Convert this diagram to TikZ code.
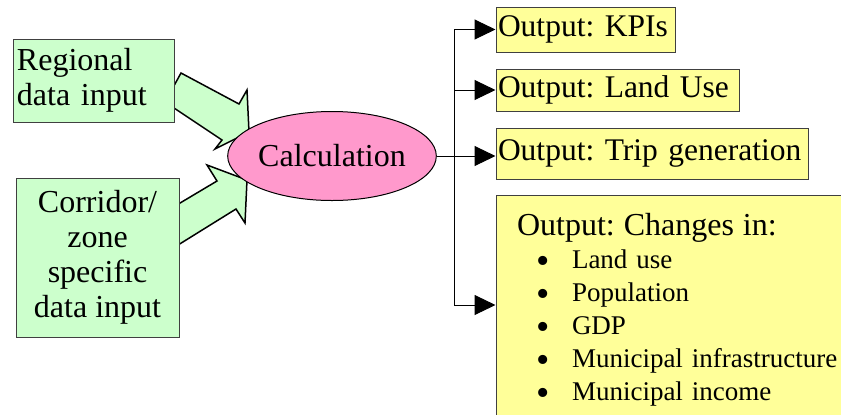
\documentclass[tikz,border=0pt]{standalone}
\usepackage{fontspec}
\setmainfont{Liberation Serif}
\usetikzlibrary{positioning,arrows.meta,shapes.geometric}
\definecolor{InputGreen}{RGB}{204,255,204}
\definecolor{OutputYellow}{RGB}{255,255,153}
\definecolor{CalcPink}{RGB}{255,153,204}
\definecolor{BoxLine}{RGB}{64,64,64}
\frenchspacing
\newcommand{\listdot}{\makebox[18pt][l]{\raisebox{-2.6pt}[0pt][0pt]{\fontsize{19}{16.5}\selectfont\textbullet}}}
\tikzset{
  flow/.style={-{Triangle[length=10.5pt,width=10pt]},line width=0.5pt,draw=black},
  busline/.style={line width=0.5pt,draw=black},
  blockarrow/.style={draw=black,fill=InputGreen,line width=0.75pt,line join=miter},
  inbox/.style={draw=BoxLine,fill=InputGreen,line width=0.5pt,inner sep=2pt,
    font=\fontsize{16}{17.5}\selectfont},
  outbox/.style={draw=BoxLine,fill=OutputYellow,line width=0.5pt,inner xsep=1pt,
    inner ysep=0pt,align=left,font=\fontsize{15.75}{17.5}\selectfont},
  calcnode/.style={ellipse,draw=black,fill=CalcPink,line width=0.5pt,inner sep=0pt,
    minimum width=100pt,minimum height=44.5pt,font=\fontsize{16}{17.5}\selectfont}
}

\begin{document}
\begin{tikzpicture}[x=0.5pt,y=-0.5pt]
  \clip (0,0) rectangle (841,414);
  % block arrows first, the input boxes hide their tails
  \draw[blockarrow] (181,73) -- (239,104) -- (247,90) -- (249,132) -- (215,149)
    -- (222,140) -- (165,102) -- cycle;
  \draw[blockarrow] (170,209) -- (217,181) -- (207,165) -- (247,180) -- (245,223)
    -- (236,209) -- (170,250) -- cycle;

  \node[inbox,minimum width=80.5pt,minimum height=41.5pt,text width=76.5pt,align=left]
    (regional) at (93.5,80.5) {Regional\\data input};
  \node[inbox,minimum width=81.5pt,minimum height=79.5pt,align=center]
    (corridor) at (97.5,257.5) {Corridor/\\zone\\specific\\data input};
  \node[calcnode] (calc) at (332,156) {Calculation};

  \node[outbox,text width=87.5pt,minimum height=22.5pt] (kpis) at (585.5,29.5) {Output: KPIs};
  \node[outbox,text width=119.5pt,minimum height=21pt,
    below=8pt of kpis.south west,anchor=north west] (landuse) {Output: Land Use};
  \node[outbox,text width=154pt,minimum height=25.5pt,
    below=8pt of landuse.south west,anchor=north west] (trip) {Output: Trip generation};
  \node[outbox,text width=165pt,inner xsep=10.5pt,minimum height=114.5pt,
    below=7.5pt of trip.south west,anchor=north west,
    font=\fontsize{13.5}{16.5}\selectfont] (changes) {%
    {\fontsize{16}{16.5}\selectfont Output: Changes in:}\\
    \hspace*{9.5pt}\listdot Land use\\
    \hspace*{9.5pt}\listdot Population\\
    \hspace*{9.5pt}\listdot GDP\\
    \hspace*{9.5pt}\listdot Municipal infrastructure\\
    \hspace*{9.5pt}\listdot Municipal income};

  \draw[flow] (calc.east) -- (calc.east -| trip.west);
  \coordinate (split) at (454,156);
  \coordinate (chgin) at ([yshift=2.25pt]changes.west);
  \draw[busline] (split |- kpis.west) -- (split |- chgin);
  \draw[flow] (split |- kpis.west) -- (kpis.west);
  \draw[flow] (split |- landuse.west) -- (landuse.west);
  \draw[flow] (split |- chgin) -- (chgin);
\end{tikzpicture}
\end{document}
